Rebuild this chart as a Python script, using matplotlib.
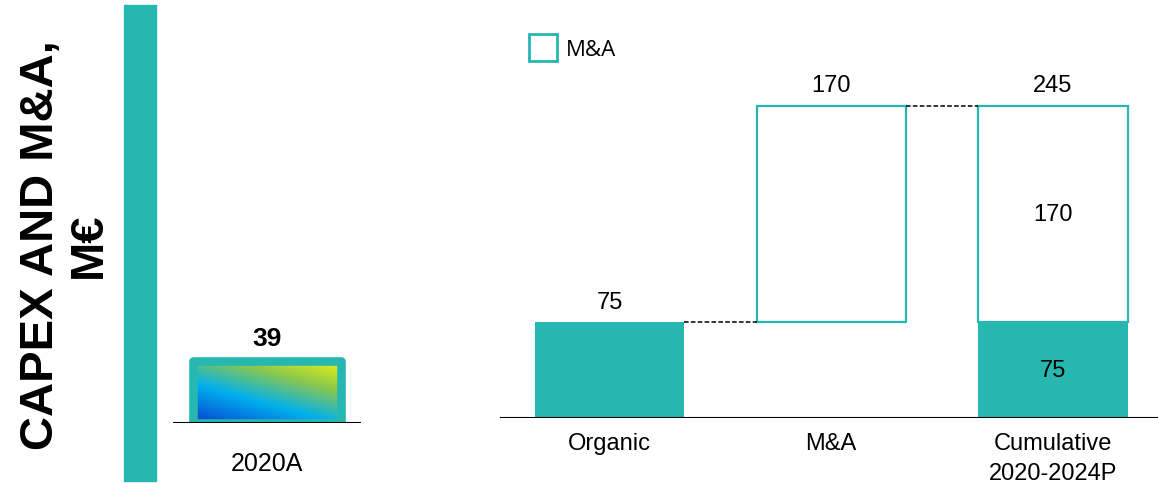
import matplotlib
matplotlib.use("Agg")
import matplotlib.pyplot as plt
import numpy as np
from matplotlib.patches import Rectangle, Patch
from matplotlib.colors import LinearSegmentedColormap

# ---- data ----
left_categories = ["2020A"]
left_values = [39]
categories = ["Organic", "M&A", "Cumulative\n2020-2024P"]
organic_part = [75, 0, 75]
mna_part = [0, 170, 170]
mna_bottom = [0, 75, 75]
totals = [75, 170, 245]
legend_label = "M&A"
title_text = "CAPEX AND M&A,\nM€"

TEAL = "#26B7B0"
W, H = 1158, 485
plt.rcParams['font.family'] = ['Liberation Sans', 'DejaVu Sans']

fig = plt.figure(figsize=(W / 100, H / 100), dpi=100)

def px_rect(x0, y_top, x1, y_bottom):
    return [x0 / W, (H - y_bottom) / H, (x1 - x0) / W, (y_bottom - y_top) / H]

# vertical teal bar
fig.patches.append(Rectangle((124 / W, 3 / H), 32 / W, 476 / H,
                             transform=fig.transFigure, color=TEAL, zorder=0))
# title
fig.text(65 / W, (H - 245) / H, title_text, rotation=90, ha='center', va='center',
         multialignment='center', fontsize=34, fontweight='bold', linespacing=1.12)

# ---- left axes ----
axl = fig.add_axes(px_rect(173, 124, 361, 424))
axl.set_xlim(-0.6, 0.6)
axl.set_ylim(0, 300 / 1.59)
bw_l = 0.945
bars_l = axl.bar(range(len(left_values)), left_values, width=bw_l, facecolor='none',
                 edgecolor=TEAL, linewidth=6.2, joinstyle='round', zorder=3)
cmap = LinearSegmentedColormap.from_list(
    "grad", [(0.0, "#0a3fd0"), (0.38, "#00b0ee"), (0.7, "#8cc84c"), (1.0, "#f0f510")])
xx, yy = np.meshgrid(np.linspace(0, 1, 200), np.linspace(0, 1, 100))
grad = 0.4 * xx + 0.6 * yy
for i, b in enumerate(bars_l):
    x0 = b.get_x(); x1 = x0 + b.get_width(); h = b.get_height()
    im = axl.imshow(grad, extent=(x0, x1, 0, h), origin='lower', cmap=cmap,
                    aspect='auto', zorder=2)
    im.set_clip_path(b)
    axl.annotate(str(left_values[i]), (b.get_x() + b.get_width() / 2, h),
                 xytext=(0, 8), textcoords='offset points', ha='center', va='bottom',
                 fontsize=19, fontweight='bold')
axl.axhline(0, color='black', lw=1.5, zorder=5)
axl.set_xticks(range(len(left_categories)))
axl.set_xticklabels(left_categories, fontsize=18)
axl.tick_params(axis='x', length=0, pad=20)
axl.set_yticks([])
for s in axl.spines.values():
    s.set_visible(False)

# ---- right axes ----
axr = fig.add_axes(px_rect(500, 37, 1158, 419))
axr.set_xlim(-0.494, 2.474)
axr.set_ylim(0, 382 / 1.2735)
bw = 0.673
x = np.arange(len(categories))
axr.bar(x, organic_part, width=bw, color=TEAL, zorder=2)
axr.bar(x, mna_part, width=bw, bottom=mna_bottom, facecolor='white', edgecolor=[
    TEAL if v > 0 else 'none' for v in mna_part], linewidth=1.6, zorder=2)
# connectors
axr.plot([0 + bw / 2, 1 - bw / 2], [totals[0], totals[0]], color='black', ls=(0, (3, 1.5)), lw=1.1)
axr.plot([1 + bw / 2, 2 - bw / 2], [totals[2], totals[2]], color='black', ls=(0, (3, 1.5)), lw=1.1)
# top labels
tops = [max(o, b + m) for o, b, m in zip(organic_part, mna_bottom, mna_part)]
for i, t in enumerate(totals):
    axr.annotate(str(t), (i, tops[i]), xytext=(0, 7), textcoords='offset points',
                 ha='center', va='bottom', fontsize=17)
# inside labels for cumulative
axr.text(2, organic_part[2] / 2, str(organic_part[2]), ha='center', va='center', fontsize=17)
axr.text(2, mna_bottom[2] + mna_part[2] / 2, str(mna_part[2]), ha='center', va='center', fontsize=17)
axr.axhline(0, color='black', lw=1.5, zorder=5)
axr.set_xticks(x)
axr.set_xticklabels(categories, fontsize=17, linespacing=1.45)
axr.tick_params(axis='x', length=0, pad=10)
axr.set_yticks([])
for s in axr.spines.values():
    s.set_visible(False)

handle = Patch(facecolor='white', edgecolor=TEAL, linewidth=2)
fig.legend([handle], [legend_label], loc='upper left',
           bbox_to_anchor=(529 / W, (H - 35) / H), frameon=False,
           prop={'family': 'Open Sans', 'size': 16}, handlelength=1.25, handleheight=1.5,
           handletextpad=0.4, borderpad=0, borderaxespad=0)

fig.savefig("out.png", dpi=100)
